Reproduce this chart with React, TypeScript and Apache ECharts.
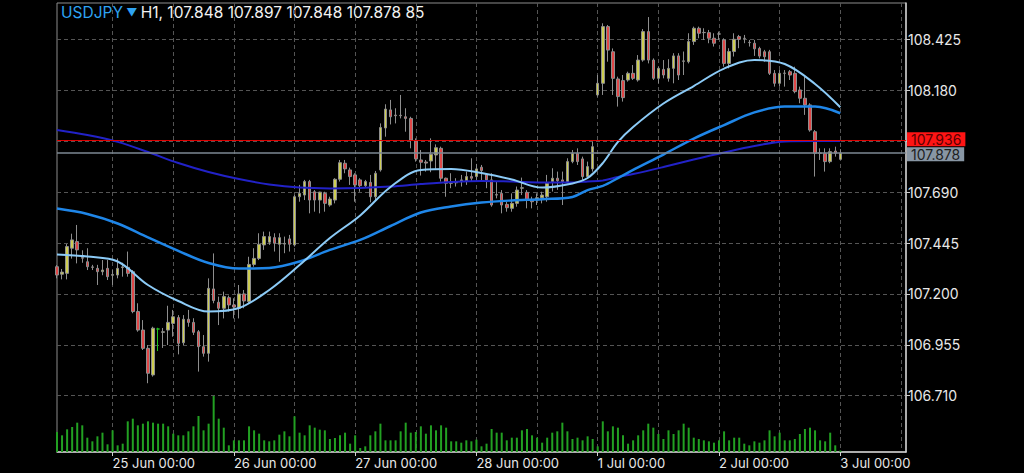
import React, { useEffect, useRef } from 'react';
import * as echarts from 'echarts';

// ---------- labels ----------
const symbolName = 'USDJPY';
const timeframe = 'H1';
const dayLabels = ['24 Jun', '25 Jun', '26 Jun', '27 Jun', '28 Jun', '1 Jul', '2 Jul', '3 Jul'];
const dayFirstHour = [13, 0, 0, 0, 0, 0, 0, 0];
const dayLastHour = [23, 23, 23, 23, 23, 23, 23, 13];
// right axis tick labels (106.710 + k*0.245); index 5 sits under the ask tag
const priceTickLabels = ['106.710', '106.955', '107.200', '107.445', '107.690', '', '108.180', '108.425'];

// ---------- candles (hourly) ----------
const opens = [107.331,107.295,107.299,107.420,107.452,107.375,107.355,107.330,107.323,107.307,
107.323,107.290,107.291,107.327,107.328,107.307,107.115,107.026,106.938,106.810,
107.031,107.015,107.026,107.058,107.086,106.965,107.078,107.063,107.018,106.946,
106.914,107.224,107.160,107.131,107.182,107.147,107.131,107.200,107.163,107.342,
107.371,107.436,107.449,107.471,107.439,107.440,107.465,107.436,107.668,107.676,
107.741,107.692,107.652,107.684,107.628,107.652,107.752,107.829,107.797,107.773,
107.749,107.721,107.737,107.668,107.797,107.999,108.086,108.061,108.060,108.053,
108.045,107.936,107.845,107.835,107.840,107.869,107.901,107.757,107.735,107.735,
107.741,107.744,107.765,107.765,107.810,107.776,107.749,107.678,107.684,107.631,
107.612,107.636,107.709,107.689,107.655,107.652,107.663,107.668,107.741,107.757,
107.749,107.741,107.837,107.877,107.850,107.765,107.802,108.158,108.214,108.487,
108.366,108.235,108.227,108.230,108.262,108.230,108.326,108.463,108.326,108.238,
108.281,108.238,108.286,108.346,108.320,108.318,108.415,108.479,108.459,108.458,
108.431,108.451,108.423,108.310,108.367,108.439,108.431,108.411,108.407,108.382,
108.366,108.366,108.262,108.214,108.263,108.270,108.262,108.182,108.142,108.110,
107.981,107.879,107.877,107.837,107.888,107.848];

const highs = [107.339,107.320,107.440,107.490,107.532,107.410,107.420,107.340,107.340,107.363,
107.363,107.315,107.371,107.350,107.404,107.315,107.155,107.074,106.954,107.042,
107.037,107.036,107.143,107.123,107.098,107.098,107.123,107.083,107.026,107.002,
107.275,107.395,107.187,107.211,107.192,107.179,107.243,107.219,107.379,107.420,
107.492,107.500,107.500,107.492,107.492,107.476,107.484,107.676,107.725,107.749,
107.749,107.700,107.692,107.692,107.668,107.757,107.845,107.845,107.808,107.781,
107.757,107.749,107.773,107.792,108.021,108.113,108.134,108.094,108.158,108.094,
108.053,107.949,107.893,107.845,107.949,107.920,107.909,107.760,107.781,107.757,
107.773,107.789,107.853,107.826,107.821,107.781,107.781,107.741,107.700,107.644,
107.684,107.717,107.760,107.700,107.668,107.684,107.692,107.773,107.805,107.789,
107.789,107.853,107.893,107.901,107.861,107.837,107.933,108.254,108.503,108.495,
108.382,108.246,108.254,108.270,108.302,108.350,108.475,108.533,108.334,108.294,
108.326,108.330,108.359,108.359,108.367,108.455,108.487,108.487,108.479,108.471,
108.455,108.463,108.431,108.383,108.455,108.447,108.447,108.423,108.423,108.390,
108.375,108.375,108.278,108.278,108.278,108.278,108.294,108.198,108.246,108.118,
107.989,107.901,107.901,107.901,107.909,107.897];

const lows = [107.275,107.270,107.270,107.370,107.347,107.350,107.315,107.315,107.243,107.290,
107.267,107.243,107.275,107.283,107.283,107.107,107.018,106.930,106.770,106.802,
106.925,106.940,106.954,106.994,106.909,106.954,107.042,107.002,106.826,106.898,
106.874,107.155,107.050,107.082,107.115,107.082,107.082,107.131,107.155,107.331,
107.363,107.412,107.436,107.404,107.355,107.396,107.404,107.428,107.644,107.652,
107.588,107.596,107.588,107.596,107.620,107.636,107.741,107.781,107.725,107.644,
107.692,107.712,107.641,107.652,107.789,107.957,108.016,108.021,108.045,107.981,
107.901,107.837,107.770,107.789,107.786,107.802,107.741,107.668,107.709,107.717,
107.717,107.725,107.741,107.749,107.741,107.709,107.620,107.660,107.588,107.596,
107.596,107.620,107.676,107.612,107.612,107.628,107.636,107.644,107.693,107.701,
107.628,107.733,107.829,107.821,107.749,107.757,107.789,108.150,108.158,108.318,
108.158,108.102,108.126,108.222,108.230,108.222,108.318,108.310,108.230,108.214,
108.238,108.222,108.214,108.230,108.254,108.310,108.399,108.431,108.423,108.407,
108.391,108.423,108.294,108.286,108.343,108.383,108.407,108.391,108.346,108.334,
108.318,108.254,108.198,108.198,108.198,108.230,108.166,108.118,108.062,107.981,
107.765,107.845,107.789,107.829,107.861,107.848];

const closes = [107.291,107.305,107.428,107.460,107.412,107.372,107.331,107.328,107.307,107.315,
107.283,107.293,107.323,107.330,107.299,107.115,107.026,106.938,106.818,107.035,
107.031,107.018,107.063,107.090,106.962,107.078,107.063,107.015,106.946,106.914,
107.227,107.168,107.131,107.187,107.147,107.137,107.200,107.166,107.342,107.371,
107.439,107.476,107.476,107.444,107.471,107.443,107.439,107.668,107.684,107.741,
107.652,107.652,107.690,107.636,107.657,107.752,107.832,107.802,107.765,107.725,
107.721,107.741,107.668,107.781,108.001,108.090,108.053,108.058,108.058,108.045,
107.941,107.850,107.834,107.830,107.872,107.904,107.757,107.733,107.733,107.737,
107.749,107.765,107.757,107.802,107.794,107.749,107.628,107.676,107.628,107.615,
107.636,107.700,107.711,107.652,107.644,107.663,107.676,107.733,107.757,107.745,
107.741,107.837,107.877,107.837,107.765,107.813,107.909,108.214,108.487,108.374,
108.238,108.150,108.145,108.262,108.238,108.326,108.463,108.326,108.238,108.286,
108.254,108.286,108.346,108.254,108.322,108.415,108.479,108.455,108.458,108.431,
108.407,108.452,108.310,108.367,108.426,108.426,108.430,108.410,108.380,108.345,
108.342,108.262,108.214,108.262,108.262,108.254,108.174,108.142,108.110,107.989,
107.877,107.877,107.837,107.885,107.877,107.878];

const volumes = [1200,1000,1360,1500,1760,1600,860,640,940,1160,
460,1300,400,500,1840,2000,1600,1700,1840,1760,
1700,1700,1540,1100,1000,1000,1240,1540,2160,1300,
1700,3360,2000,1460,400,700,700,700,1540,1300,
1100,700,640,700,1040,1240,940,2140,1160,1000,
1600,1460,1340,1300,780,840,1000,1160,500,1000,
240,340,1000,1240,1700,700,700,700,1240,1760,
1160,1200,1540,1100,1600,1300,1600,1460,640,640,
560,700,640,740,340,500,1380,1160,1160,700,
860,860,1300,1380,1000,860,560,860,1160,1240,
1760,1240,780,860,700,940,780,340,1840,1240,
1540,1460,1000,500,700,1000,1300,1700,1460,1080,
780,1300,1080,1300,1700,1460,860,780,700,640,
560,700,1240,700,860,860,500,400,640,560,
700,1300,940,1160,700,700,780,1080,1380,1460,
1300,700,640,1160,400,85];

// flat (open == close) candle drawn in green
const greenDojiIndex = [20];

// ---------- moving averages (read at sampled bars) ----------
const maSampleIndex = [0,6,12,18,24,30,36,42,48,54,60,66,72,78,84,90,96,102,105,108,111,114,120,126,132,138,144,150,155];
const maFast = [107.390,107.380,107.356,107.243,107.166,107.115,107.132,107.219,107.339,107.469,107.578,107.715,107.797,107.802,107.782,107.751,107.712,107.732,107.758,107.830,107.932,108.004,108.117,108.201,108.285,108.326,108.307,108.211,108.099];
const maMid = [107.611,107.585,107.539,107.472,107.407,107.349,107.322,107.325,107.356,107.412,107.460,107.527,107.592,107.621,107.640,107.650,107.656,107.667,107.700,107.720,107.758,107.797,107.871,107.948,108.013,108.074,108.102,108.102,108.070];
const maSlow = [107.989,107.965,107.932,107.883,107.830,107.787,107.753,107.727,107.712,107.708,107.710,107.717,107.729,107.739,107.744,107.741,107.737,107.737,107.741,107.746,107.763,107.777,107.811,107.847,107.881,107.912,107.934,107.936,107.936];

// ---------- price lines ----------
const askPrice = 107.936;
const bidPrice = 107.878;

// visible price range of the pane
const priceAxisMin = 106.4389;
const priceAxisMax = 108.6007;
const volumeAxisMax = 26940;

const FONT = 'Inter, "Liberation Sans", sans-serif';
const GRID_DASH = '#555555';

function buildCategories(): string[] {
  const out: string[] = [];
  dayLabels.forEach((d, k) => {
    for (let h = dayFirstHour[k]; h <= dayLastHour[k]; h++) {
      out.push(`${d} ${String(h).padStart(2, '0')}:00`);
    }
  });
  return out;
}

function sampled(values: number[], n: number) {
  const arr: (number | null)[] = new Array(n).fill(null);
  maSampleIndex.forEach((idx, k) => { arr[idx] = values[k]; });
  return arr;
}

export default function App() {
  const ref = useRef<HTMLDivElement>(null);

  useEffect(() => {
    if (!ref.current) return;
    const chart = echarts.init(ref.current, null, { renderer: 'svg' });
    const categories = buildCategories();
    const n = categories.length;
    const isDayStart = (_i: number, v: string) => v.endsWith(' 00:00');
    const isHalfDay = (_i: number, v: string) => v.endsWith(' 00:00') || v.endsWith(' 12:00');

    const candleData = opens.map((o, i) => {
      const v = [o, closes[i], lows[i], highs[i]];
      if (greenDojiIndex.includes(i)) {
        return { value: v, itemStyle: { color: '#1fbf1f', color0: '#1fbf1f', borderColor: '#1fbf1f', borderColor0: '#1fbf1f' } };
      }
      return v;
    });
    const last = opens.length - 1;
    const titleText = `${timeframe}, ${opens[last].toFixed(3)} ${highs[last].toFixed(3)} ${lows[last].toFixed(3)} ${closes[last].toFixed(3)} ${volumes[last]}`;

    const lineBase = { type: 'line', xAxisIndex: 0, yAxisIndex: 0, showSymbol: false, connectNulls: true, smooth: 0.35, silent: true };

    chart.setOption({
      animation: false,
      backgroundColor: '#000000',
      grid: [
        { left: 57, right: 118, top: 3, bottom: 21, show: true, borderColor: '#8c8c8c', borderWidth: 1 },
        { left: 57, right: 118, top: 39.5, bottom: 77.31 },
      ],
      xAxis: [
        {
          type: 'category', gridIndex: 0, data: categories, boundaryGap: false,
          axisLine: { show: true, lineStyle: { color: '#cfcfcf', width: 1.5 } },
          axisTick: { show: true, interval: isDayStart, length: 4, lineStyle: { color: '#cfcfcf' } },
          axisLabel: { show: true, interval: isDayStart, align: 'left', color: '#e8e8e8', fontSize: 13, fontFamily: FONT, margin: 4 },
          splitLine: { show: true, interval: isHalfDay, lineStyle: { color: GRID_DASH, type: [4, 3], width: 1 } },
        },
        { type: 'category', gridIndex: 1, data: categories, boundaryGap: false, show: false },
      ],
      yAxis: [
        {
          type: 'value', gridIndex: 0, position: 'right', min: priceAxisMin, max: priceAxisMax,
          axisLine: { show: true, lineStyle: { color: '#cfcfcf', width: 1.5 } },
          axisTick: { show: false }, axisLabel: { show: false }, splitLine: { show: false },
        },
        { type: 'value', gridIndex: 0, position: 'left', min: 0, max: volumeAxisMax, show: false, splitLine: { show: false } },
        {
          type: 'value', gridIndex: 1, position: 'right', min: 0, max: priceTickLabels.length - 1, interval: 1,
          axisLine: { show: false },
          axisTick: { show: true, length: 4, lineStyle: { color: '#cfcfcf' } },
          axisLabel: { show: true, color: '#e8e8e8', fontSize: 14, fontFamily: FONT, margin: 2, formatter: (v: number) => priceTickLabels[Math.round(v)] ?? '' },
          splitLine: { show: true, lineStyle: { color: GRID_DASH, type: [4, 3], width: 1 } },
        },
      ],
      graphic: [
        {
          type: 'text', left: 61, top: 4, silent: true,
          style: {
            text: `{s|${symbolName}} {a|▼} {t|${titleText}}`,
            rich: {
              s: { fill: '#2ea3f2', fontSize: 15.5, fontFamily: FONT },
              a: { fill: '#2ea3f2', fontSize: 11, fontFamily: FONT },
              t: { fill: '#f2f2f2', fontSize: 15.5, fontFamily: FONT },
            },
          },
        },
      ],
      series: [
        {
          type: 'bar', xAxisIndex: 0, yAxisIndex: 1, data: volumes, barWidth: 2, silent: true,
          itemStyle: { color: '#22a022' },
        },
        {
          type: 'candlestick', xAxisIndex: 0, yAxisIndex: 0, data: candleData, barWidth: 3, silent: true,
          itemStyle: { color: '#cdcd52', color0: '#e04848', borderColor: '#8e8e8e', borderColor0: '#8e8e8e', borderWidth: 1 },
          markLine: {
            silent: true, symbol: ['none', 'none'], animation: false,
            data: [
              {
                yAxis: askPrice,
                lineStyle: { color: '#e00000', width: 1.2, type: 'solid' },
                label: { show: true, position: 'end', distance: 1, offset: [0, -1], formatter: askPrice.toFixed(3), backgroundColor: '#ff1414', color: '#5a0000', padding: [1, 4, 0, 4], lineHeight: 13, fontSize: 14, fontFamily: FONT },
              },
              {
                yAxis: bidPrice,
                lineStyle: { color: '#7d8893', width: 1.5, type: 'solid' },
                label: { show: true, position: 'end', distance: 1, offset: [0, 1.5], formatter: bidPrice.toFixed(3), backgroundColor: '#8896a4', color: '#1e1e1e', padding: [1, 4, 0, 4], lineHeight: 13, fontSize: 14, fontFamily: FONT },
              },
            ],
          },
        },
        { ...lineBase, data: sampled(maSlow, n), lineStyle: { color: '#2222c8', width: 2 } },
        { ...lineBase, data: sampled(maMid, n), lineStyle: { color: '#1f86e8', width: 2.5 } },
        { ...lineBase, data: sampled(maFast, n), lineStyle: { color: '#8ccbf7', width: 2 } },
      ],
    });
    return () => chart.dispose();
  }, []);

  return (
    <div
      ref={ref}
      style={{ position: 'fixed', left: 0, top: 0, width: 1024, height: 473, background: '#000' }}
    />
  );
}
